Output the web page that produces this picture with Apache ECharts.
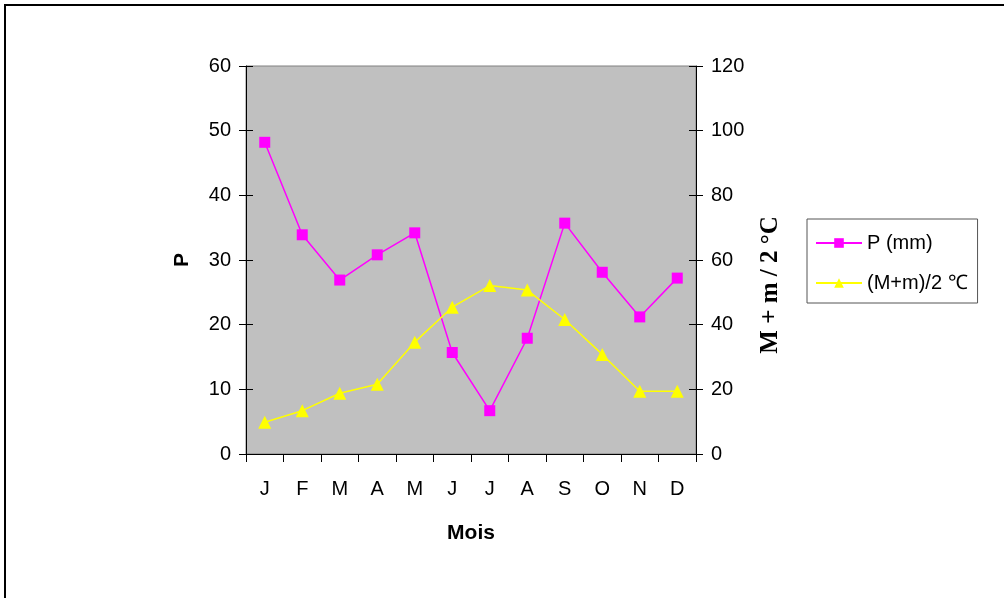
<!DOCTYPE html>
<html>
<head>
<meta charset="utf-8">
<script src="https://cdn.jsdelivr.net/npm/echarts@6/dist/echarts.min.js"></script>
<style>html,body{margin:0;padding:0;background:#fff;}#c{width:1004px;height:598px;}</style>
</head>
<body>
<div id="c"></div>
<script>
const months = ['J','F','M','A','M','J','J','A','S','O','N','D'];
const precip = [48.2, 33.9, 26.9, 30.8, 34.2, 15.7, 6.7, 17.9, 35.7, 28.1, 21.2, 27.2];
const temp = [9.8, 13.4, 18.8, 21.6, 34.6, 45.4, 52.1, 50.7, 41.6, 30.8, 19.4, 19.4];
const leftTicks = {min: 0, max: 60, interval: 10};
const rightTicks = {min: 0, max: 120, interval: 20};
const seriesNames = ['P (mm)', '(M+m)/2 ℃'];
const rightAxisTitle = 'M + m / 2 °C';

const chart = echarts.init(document.getElementById('c'), null, {renderer: 'canvas'});
const font = 'Liberation Sans, Arial, sans-serif';
const grid = {left: 246, top: 66, width: 450, height: 388};
function innerAxis(pos, t) {
  return {type: 'value', position: pos, min: t.min, max: t.max, interval: t.interval,
    axisLine: {show: false}, splitLine: {show: false}, axisLabel: {show: false},
    axisTick: {show: true, inside: true, length: 7, lineStyle: {color: '#000'}}};
}
chart.setOption({
  animation: false,
  backgroundColor: '#fff',
  graphic: [
    {type: 'rect', shape: {x: 5, y: 5, width: 1200, height: 800},
      style: {fill: 'none', stroke: '#000', lineWidth: 2}, silent: true},
    {type: 'text', x: 771, y: 285, rotation: Math.PI / 2,
      style: {text: rightAxisTitle, fill: '#000', align: 'center', verticalAlign: 'middle',
        font: 'bold 25px "Liberation Serif", "Times New Roman", serif'}, silent: true}
  ],
  grid: Object.assign({show: true, backgroundColor: '#c0c0c0', borderColor: '#808080', borderWidth: 1}, grid),
  legend: {
    orient: 'vertical', left: 807, top: 219,
    padding: [14, 10, 10, 8], itemGap: 20, itemWidth: 46, itemHeight: 12,
    borderColor: '#555', borderWidth: 1, backgroundColor: '#fff',
    textStyle: {fontFamily: font, fontSize: 20, color: '#000'},
    data: seriesNames
  },
  xAxis: {
    type: 'category', data: months, boundaryGap: true,
    name: 'Mois', nameLocation: 'middle', nameGap: 69,
    nameTextStyle: {fontFamily: font, fontSize: 21, fontWeight: 'bold', color: '#000'},
    axisLine: {lineStyle: {color: '#000', width: 1}},
    axisTick: {show: true, alignWithLabel: false, length: 8, lineStyle: {color: '#000'}},
    axisLabel: {fontFamily: font, fontSize: 20, color: '#000', margin: 25}
  },
  yAxis: [
    {type: 'value', position: 'left', min: leftTicks.min, max: leftTicks.max, interval: leftTicks.interval,
      name: 'P', nameLocation: 'middle', nameGap: 53, nameRotate: 90,
      nameTextStyle: {fontFamily: font, fontSize: 21, fontWeight: 'bold', color: '#000'},
      axisLine: {show: true, lineStyle: {color: '#000'}},
      axisTick: {show: true, length: 7, lineStyle: {color: '#000'}},
      splitLine: {show: false},
      axisLabel: {fontFamily: font, fontSize: 20, color: '#000', margin: 15}},
    {type: 'value', position: 'right', min: rightTicks.min, max: rightTicks.max, interval: rightTicks.interval,
      axisLine: {show: true, lineStyle: {color: '#000'}},
      axisTick: {show: true, length: 7, lineStyle: {color: '#000'}},
      splitLine: {show: false},
      axisLabel: {fontFamily: font, fontSize: 20, color: '#000', margin: 15}},
    innerAxis('left', leftTicks),
    innerAxis('right', rightTicks)
  ],
  series: [
    {name: seriesNames[0], type: 'line', yAxisIndex: 0, data: precip,
      symbol: 'rect', symbolSize: 11, color: '#ff00ff',
      lineStyle: {color: '#ff00ff', width: 1.5}, itemStyle: {color: '#ff00ff'}},
    {name: seriesNames[1], type: 'line', yAxisIndex: 1, data: temp,
      symbol: 'triangle', symbolSize: 13, color: '#ffff00',
      lineStyle: {color: '#ffff00', width: 1.5}, itemStyle: {color: '#ffff00'}}
  ]
});
</script>
</body>
</html>
